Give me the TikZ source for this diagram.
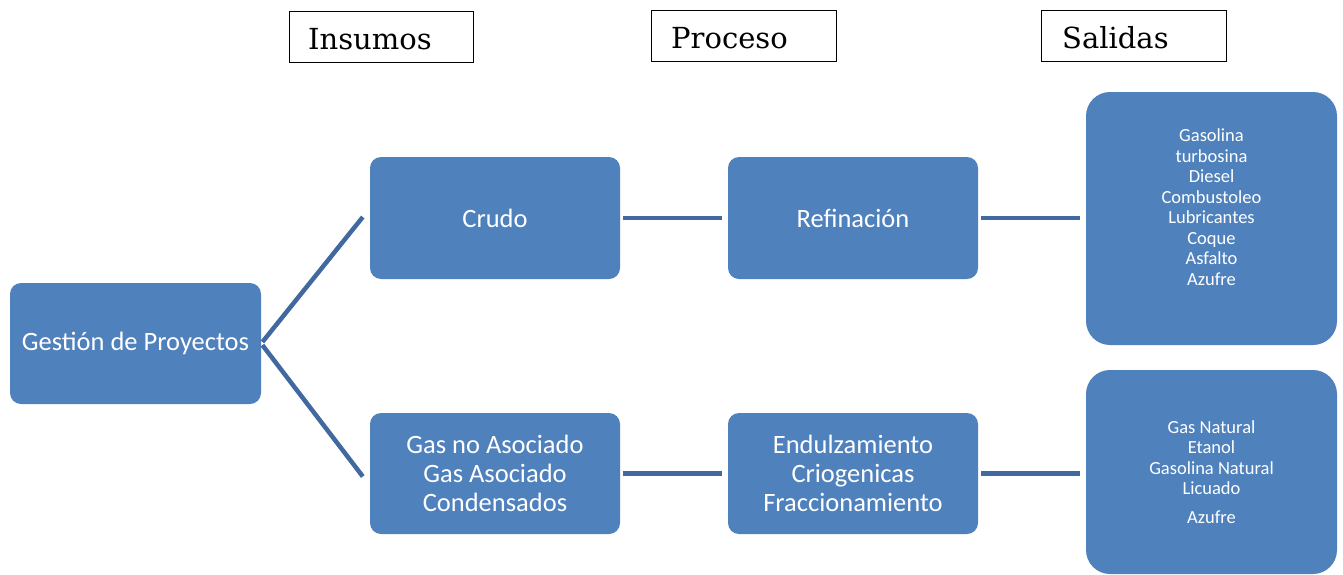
\documentclass[tikz,border=0pt]{standalone}
\usepackage{fontspec}
\setmainfont{Carlito}
\newfontfamily\hdrfont{DejaVu Serif}
\definecolor{boxblue}{HTML}{4F81BD}
\definecolor{linkblue}{HTML}{41699F}
\begin{document}
\begin{tikzpicture}[x=1pt,y=-1pt,
  bluebox/.style={fill=boxblue, draw=none, rounded corners=11pt, inner sep=0pt,
    text=white, align=center, font=\fontsize{26.5}{29}\selectfont},
  bigbox/.style={fill=boxblue, draw=none, rounded corners=24pt, inner sep=0pt},
  smalltext/.style={text=white, align=center, inner sep=0pt, font=\fontsize{18.5}{20.5}\selectfont},
  hdrbox/.style={draw=black, line width=0.9pt, fill=white, inner sep=0pt},
  hdrtext/.style={anchor=base west, inner sep=0pt, font=\hdrfont\fontsize{29}{32}\selectfont},
  link/.style={draw=linkblue, line width=4.5pt}
]
\useasboundingbox (0,0) rectangle (1343,574);
% header boxes
\node[hdrbox, minimum width=184pt, minimum height=51pt] (hin) at (381,36.5) {};
\node[hdrbox, minimum width=185pt, minimum height=51pt] (hpr) at (743.5,35.5) {};
\node[hdrbox, minimum width=185pt, minimum height=51pt] (hsa) at (1133.5,35.5) {};
\node[hdrtext] (thin) at (308,49) {Insumos};
\node[hdrtext] (thpr) at (671,48) {Proceso};
\node[hdrtext] (thsa) at (1062,48) {Salidas};
% blue boxes
\node[bluebox, minimum width=251pt, minimum height=121pt] (gp) at (135.5,343.5) {Gestión de Proyectos};
\node[bluebox, minimum width=250pt, minimum height=122pt] (crudo) at (495,218) {Crudo};
\node[bluebox, minimum width=250pt, minimum height=122pt] (ref) at (853,218) {Refinación};
\node[bluebox, minimum width=250pt, minimum height=121pt] (gas) at (495,473.5) {Gas no Asociado\\Gas Asociado\\Condensados};
\node[bluebox, minimum width=250pt, minimum height=121pt] (end) at (853,473.5) {Endulzamiento\\Criogenicas\\Fraccionamiento};
\node[bigbox, minimum width=251pt, minimum height=253pt] (sal1) at (1211.5,218.5) {};
\node[bigbox, minimum width=251pt, minimum height=204pt] (sal2) at (1211.5,472) {};
\node[smalltext] (sal1t) at (1211.5,207) {Gasolina\\turbosina\\Diesel\\Combustoleo\\Lubricantes\\Coque\\Asfalto\\Azufre};
\node[smalltext, anchor=base] (sal2t) at (1211.5,523) {Gas Natural\\Etanol\\Gasolina Natural\\Licuado\\[8pt]Azufre};
% connector end points
\coordinate (cj) at ([xshift=-7pt,yshift=1pt]crudo.west);
\coordinate (gj) at ([xshift=-7pt,yshift=-3pt]gas.west);
% connectors
\draw[link, shorten <=2pt] (gp.east) -- (cj);
\draw[link, shorten <=2pt] (gp.east) -- (gj);
\draw[link, shorten <=3pt, shorten >=6pt] (crudo.east) -- (ref.west);
\draw[link, shorten <=3pt, shorten >=6pt] (ref.east) -- (sal1.west |- ref.east);
\draw[link, shorten <=3pt, shorten >=6pt] (gas.east) -- (end.west);
\draw[link, shorten <=3pt, shorten >=6pt] (end.east) -- (sal2.west |- end.east);
\end{tikzpicture}
\end{document}
